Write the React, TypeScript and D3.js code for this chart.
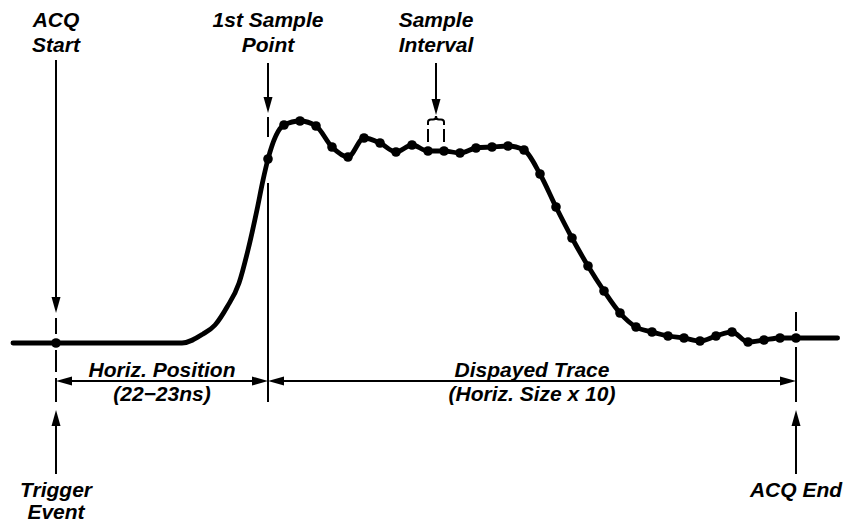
import React from "react";
import * as d3 from "d3";

// Sample-interval units: t = 0 is the first sample point, 1 unit = 1 sample interval
const preTimes = [-15.94, -13.25, -5.375, -4.06, -3.31, -2.56, -1.81, -1.25, -0.69, -0.31];
const preValues = [0, 0, 0, 9, 18, 36, 60, 93, 133, 163];
const sampleValues = [
  184, 218, 222, 217, 196, 186, 205, 200, 191, 198, 192, 192, 190, 195, 196, 197, 193,
  169, 136, 105, 77, 52, 30, 16, 11, 7, 5, 2, 7, 11, 1, 3, 5, 5,
];
const tailTimes = [35.6];
const tailValues = [5];
const acqStartT = -13.25;
const firstSampleT = 0;
const acqEndT = 33;
const intervalIdx = [10, 11];

const topLabels = [
  { t: acqStartT, lines: ["ACQ", "Start"] },
  { t: firstSampleT, lines: ["1st Sample", "Point"] },
  { t: 10.5, lines: ["Sample", "Interval"] },
];
const dimLabels = [
  { from: acqStartT, to: firstSampleT, lines: ["Horiz. Position", "(22\u221223ns)"] },
  { from: firstSampleT, to: acqEndT, lines: ["Dispayed Trace", "(Horiz. Size x 10)"] },
];
const bottomLabels = [
  { t: acqStartT, lines: ["Trigger", "Event"] },
  { t: acqEndT, lines: ["ACQ End"] },
];

const W = 855;
const H = 523;

export default function App() {
  const x = d3.scaleLinear().domain([0, 33]).range([268, 796]);
  const y = d3.scaleLinear().domain([0, 225]).range([343, 118]);

  const samples = sampleValues.map((v, i) => ({ t: i, v }));
  const trace = [
    ...preTimes.map((t, i) => ({ t, v: preValues[i] })),
    ...samples,
    ...tailTimes.map((t, i) => ({ t, v: tailValues[i] })),
  ];
  const line = d3
    .line<{ t: number; v: number }>()
    .x((d) => x(d.t))
    .y((d) => y(d.v))
    .curve(d3.curveMonotoneX);

  const font = {
    fontFamily: "'Liberation Sans', Arial, Helvetica, sans-serif",
    fontWeight: 700,
    fontStyle: "italic",
    fontSize: 21,
  } as const;

  const arrowDown = (cx: number, tip: number) =>
    `M${cx - 4.5},${tip - 16} L${cx + 4.5},${tip - 16} L${cx},${tip} Z`;
  const arrowUp = (cx: number, tip: number) =>
    `M${cx - 4.5},${tip + 16} L${cx + 4.5},${tip + 16} L${cx},${tip} Z`;
  const arrowLeft = (tip: number, cy: number) =>
    `M${tip + 16},${cy - 4.5} L${tip + 16},${cy + 4.5} L${tip},${cy} Z`;
  const arrowRight = (tip: number, cy: number) =>
    `M${tip - 16},${cy - 4.5} L${tip - 16},${cy + 4.5} L${tip},${cy} Z`;

  const xs = x(acqStartT);
  const xf = x(firstSampleT);
  const xe = x(acqEndT);
  const xi0 = x(intervalIdx[0]);
  const xi1 = x(intervalIdx[1]);
  const xim = (xi0 + xi1) / 2;
  const dimY = 381;
  const base = y(0);

  return (
    <svg
      width={W}
      height={H}
      style={{ position: "absolute", left: 0, top: 0, background: "#fff" }}
    >
      <rect width={W} height={H} fill="#fff" />
      {/* top labels */}
      {topLabels.map((l, i) => (
        <text key={i} {...font} textAnchor="middle" x={x(l.t)} y={27}>
          {l.lines.map((s, j) => (
            <tspan key={j} x={x(l.t)} dy={j === 0 ? 0 : 25}>
              {s}
            </tspan>
          ))}
        </text>
      ))}

      {/* ACQ Start marker */}
      <line x1={xs} x2={xs} y1={60} y2={300} stroke="#000" strokeWidth={2} />
      <path d={arrowDown(xs, 313)} fill="#000" />
      <line x1={xs} x2={xs} y1={318} y2={334} stroke="#000" strokeWidth={2} />
      <line x1={xs} x2={xs} y1={350} y2={372} stroke="#000" strokeWidth={2} />
      <line x1={xs} x2={xs} y1={378} y2={402} stroke="#000" strokeWidth={2} />

      {/* 1st sample marker */}
      <line x1={xf} x2={xf} y1={63} y2={100} stroke="#000" strokeWidth={2} />
      <path d={arrowDown(xf, 113)} fill="#000" />
      <line x1={xf} x2={xf} y1={117} y2={137} stroke="#000" strokeWidth={2} />
      <line x1={xf} x2={xf} y1={183} y2={402} stroke="#000" strokeWidth={2} />

      {/* Sample interval marker */}
      <line x1={xim} x2={xim} y1={63} y2={100} stroke="#000" strokeWidth={2} />
      <path d={arrowDown(xim, 115)} fill="#000" />
      <path
        d={`M${xi0},125 V122 Q${xi0},119.5 ${xi0 + 3},119.5 H${xim - 3} Q${xim},119.5 ${xim},116 Q${xim},119.5 ${xim + 3},119.5 H${xi1 - 3} Q${xi1},119.5 ${xi1},122 V125`}
        fill="none"
        stroke="#000"
        strokeWidth={2}
      />
      <line x1={xi0} x2={xi0} y1={129} y2={142} stroke="#000" strokeWidth={2} />
      <line x1={xi1} x2={xi1} y1={129} y2={142} stroke="#000" strokeWidth={2} />

      {/* ACQ End marker */}
      <line x1={xe} x2={xe} y1={312} y2={331} stroke="#000" strokeWidth={2} />
      <line x1={xe} x2={xe} y1={347} y2={402} stroke="#000" strokeWidth={2} />

      {/* dimension arrows */}
      {dimLabels.map((d, i) => {
        const a = x(d.from);
        const b = x(d.to);
        const c = (a + b) / 2;
        return (
          <g key={i}>
            <line x1={a + 10} x2={b - 10} y1={dimY} y2={dimY} stroke="#000" strokeWidth={2} />
            <path d={arrowLeft(a, dimY)} fill="#000" />
            <path d={arrowRight(b, dimY)} fill="#000" />
            <text {...font} textAnchor="middle" x={c} y={dimY - 4}>
              {d.lines[0]}
            </text>
            <text {...font} textAnchor="middle" x={c} y={dimY + 20}>
              {d.lines[1]}
            </text>
          </g>
        );
      })}

      {/* bottom arrows & labels */}
      {bottomLabels.map((l, i) => (
        <g key={i}>
          <line x1={x(l.t)} x2={x(l.t)} y1={420} y2={474} stroke="#000" strokeWidth={2} />
          <path d={arrowUp(x(l.t), 410)} fill="#000" />
          <text {...font} textAnchor="middle" x={x(l.t)} y={497}>
            {l.lines.map((s, j) => (
              <tspan key={j} x={x(l.t)} dy={j === 0 ? 0 : 22}>
                {s}
              </tspan>
            ))}
          </text>
        </g>
      ))}

      {/* trace */}
      <path d={line(trace) ?? ""} fill="none" stroke="#000" strokeWidth={4.8} strokeLinejoin="round" strokeLinecap="round" />
      {samples.map((d, i) => (
        <circle key={i} cx={x(d.t)} cy={y(d.v)} r={4.8} fill="#000" />
      ))}
      <circle cx={xs} cy={base} r={4.8} fill="#000" />
    </svg>
  );
}
